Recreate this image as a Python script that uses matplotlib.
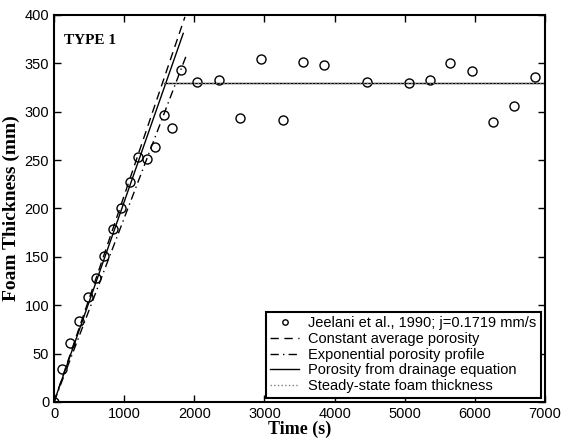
import matplotlib
matplotlib.use("Agg")
import matplotlib.pyplot as plt
import numpy as np

# Experimental data (Jeelani et al., 1990)
t_exp = [0, 110, 223, 356, 480, 598, 717, 836, 959, 1083, 1201, 1325, 1443, 1563,
         1685, 1805, 2041, 2346, 2650, 2949, 3258, 3551, 3850, 4454, 5057, 5356,
         5651, 5954, 6258, 6557, 6852]
h_exp = [0, 34, 61, 84, 108, 128, 151, 179, 200, 227, 253, 251, 264, 297,
         283, 343, 331, 333, 293, 354, 291, 351, 348, 331, 330, 333,
         350, 342, 289, 306, 336]

# Model lines
t_const = [0, 1866]
h_const = [0, 398]
t_exp_prof = [0, 1890]
h_exp_prof = [0, 359]
t_drain = [0, 1842]
h_drain = [0, 381]
t_ss = [1565, 7000]
h_ss = [330, 330]

plt.rcParams['font.family'] = ['Liberation Sans', 'DejaVu Sans']

fig = plt.figure(figsize=(5.62, 4.4), dpi=100)
ax = fig.add_axes([0.0961, 0.0864, 0.8739, 0.8796])

ax.plot(t_exp, h_exp, 'o', mfc='none', mec='black', ms=6.5, mew=1.0,
        label='Jeelani et al., 1990; j=0.1719 mm/s')
ax.plot(t_const, h_const, '--', color='black', lw=1.0, dashes=(6, 4),
        label='Constant average porosity')
ax.plot(t_exp_prof, h_exp_prof, '-.', color='black', lw=1.0, dashes=(6, 3, 1, 3),
        label='Exponential porosity profile')
ax.plot(t_drain, h_drain, '-', color='black', lw=1.0,
        label='Porosity from drainage equation')
ax.plot(t_ss, h_ss, '-', color='black', lw=1.0)
ax.plot(t_ss, h_ss, ':', color='gray', lw=1.0,
        label='Steady-state foam thickness')

ax.set_xlim(0, 7000)
ax.set_ylim(0, 400)
ax.set_xticks(np.arange(0, 7001, 1000))
ax.set_yticks(np.arange(0, 401, 50))
ax.tick_params(direction='in', top=True, right=True, labelsize=10.5, length=5, width=1)
for s in ax.spines.values():
    s.set_linewidth(1.5)

ax.set_xlabel('Time (s)', fontfamily='Liberation Serif', fontweight='bold',
              fontsize=13, labelpad=0)
ax.set_ylabel('Foam Thickness (mm)', fontfamily='Liberation Serif', fontweight='bold',
              fontsize=14, labelpad=3)
ax.text(0.02, 0.925, 'TYPE 1', transform=ax.transAxes, fontfamily='Liberation Serif',
        fontweight='bold', fontsize=11)

leg = ax.legend(loc='lower right', bbox_to_anchor=(1.0, 0.0), borderaxespad=0.3,
                fontsize=10.5, frameon=True, fancybox=False, edgecolor='black',
                framealpha=1, handlelength=2.0, handletextpad=0.6, markerscale=0.6,
                labelspacing=0.12, borderpad=0.3)
leg.get_frame().set_linewidth(1.5)

fig.savefig('out.png', dpi=100)
